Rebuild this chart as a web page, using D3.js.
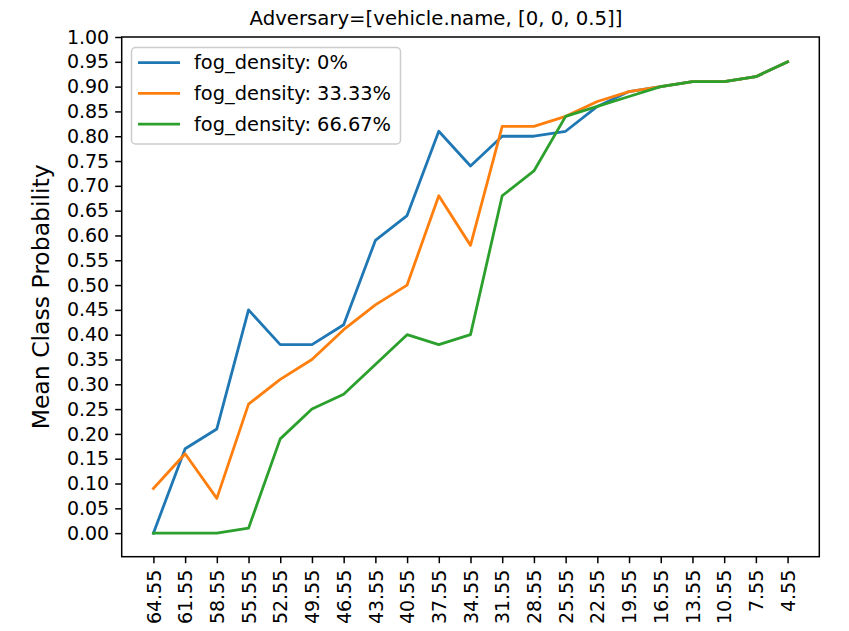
<!DOCTYPE html>
<html>
<head>
<meta charset="utf-8">
<script src="https://cdn.jsdelivr.net/npm/d3@7"></script>
<style>
  html, body { margin: 0; padding: 0; background: #fff; }
  text { font-family: "DejaVu Sans", sans-serif; fill: #000; }
</style>
</head>
<body>
<svg id="chart" width="849" height="631"></svg>
<script>
const categories = ["64.55","61.55","58.55","55.55","52.55","49.55","46.55","43.55","40.55","37.55","34.55","31.55","28.55","25.55","22.55","19.55","16.55","13.55","10.55","7.55","4.55"];
const fog0 =  [0.00,0.17,0.21,0.45,0.38,0.38,0.42,0.59,0.64,0.81,0.74,0.80,0.80,0.81,0.86,0.89,0.90,0.91,0.91,0.92,0.95];
const fog33 = [0.09,0.16,0.07,0.26,0.31,0.35,0.41,0.46,0.50,0.68,0.58,0.82,0.82,0.84,0.87,0.89,0.90,0.91,0.91,0.92,0.95];
const fog67 = [0.00,0.00,0.00,0.01,0.19,0.25,0.28,0.34,0.40,0.38,0.40,0.68,0.73,0.84,0.86,0.88,0.90,0.91,0.91,0.92,0.95];
const seriesNames = ["fog_density: 0%","fog_density: 33.33%","fog_density: 66.67%"];
const yTicks = d3.range(0, 21).map(i => +(i * 0.05).toFixed(2));
const titleText = "Adversary=[vehicle.name, [0, 0, 0.5]]";
const yLabel = "Mean Class Probability";

const colors = ["#1f77b4","#ff7f0e","#2ca02c"];
const series = [fog0, fog33, fog67];

const L = 121.7, R = 819.3, T = 37, B = 556.7;
const svg = d3.select("#chart");

const x = d3.scalePoint().domain(categories).range([L, R]).padding(1);
const y = d3.scaleLinear().domain([-0.0475, 1.0]).range([B, T]);

// lines
const line = d3.line().x((d, i) => x(categories[i])).y(d => y(d));
series.forEach((s, k) => {
  svg.append("path").datum(s)
    .attr("d", line)
    .attr("fill", "none")
    .attr("stroke", colors[k])
    .attr("stroke-width", 2.8)
    .attr("stroke-linejoin", "round")
    .attr("stroke-linecap", "square");
});

// axes
const xAxis = d3.axisBottom(x).tickSize(6.5).tickPadding(6);
const gx = svg.append("g").attr("transform", `translate(0,${B})`).call(xAxis);
gx.select(".domain").remove();
gx.selectAll(".tick line").attr("stroke", "#000").attr("stroke-width", 1.5);
gx.selectAll(".tick text")
  .attr("font-size", 19)
  .attr("font-family", "DejaVu Sans")
  .attr("transform", "rotate(-90)")
  .attr("text-anchor", "end")
  .attr("x", -13)
  .attr("y", 0)
  .attr("dy", "0.35em");

const yAxis = d3.axisLeft(y).tickValues(yTicks).tickFormat(d3.format(".2f")).tickSize(6.5).tickPadding(6);
const gy = svg.append("g").attr("transform", `translate(${L},0)`).call(yAxis);
gy.select(".domain").remove();
gy.selectAll(".tick line").attr("stroke", "#000").attr("stroke-width", 1.5);
gy.selectAll(".tick text").attr("font-size", 19).attr("font-family", "DejaVu Sans");

// frame
svg.append("rect")
  .attr("x", L).attr("y", T).attr("width", R - L).attr("height", B - T)
  .attr("fill", "none").attr("stroke", "#000").attr("stroke-width", 1.5);

// title
svg.append("text")
  .attr("x", 436).attr("y", 25)
  .attr("text-anchor", "middle")
  .attr("font-size", 19.7)
  .text(titleText);

// y label
svg.append("text")
  .attr("transform", `translate(49,${(T + B) / 2}) rotate(-90)`)
  .attr("text-anchor", "middle")
  .attr("font-size", 23.5)
  .text(yLabel);

// legend
const lg = svg.append("g");
lg.append("rect")
  .attr("x", 131.5).attr("y", 47.5).attr("width", 269).attr("height", 96.5)
  .attr("rx", 4).attr("ry", 4)
  .attr("fill", "#fff").attr("fill-opacity", 0.8)
  .attr("stroke", "#cccccc").attr("stroke-width", 1.5);
seriesNames.forEach((name, k) => {
  const yy = 62.7 + k * 30.7;
  lg.append("line")
    .attr("x1", 138).attr("x2", 180).attr("y1", yy).attr("y2", yy)
    .attr("stroke", colors[k]).attr("stroke-width", 2.8);
  lg.append("text")
    .attr("x", 194).attr("y", yy).attr("dy", "0.35em")
    .attr("font-size", 19.4)
    .text(name);
});
</script>
</body>
</html>
